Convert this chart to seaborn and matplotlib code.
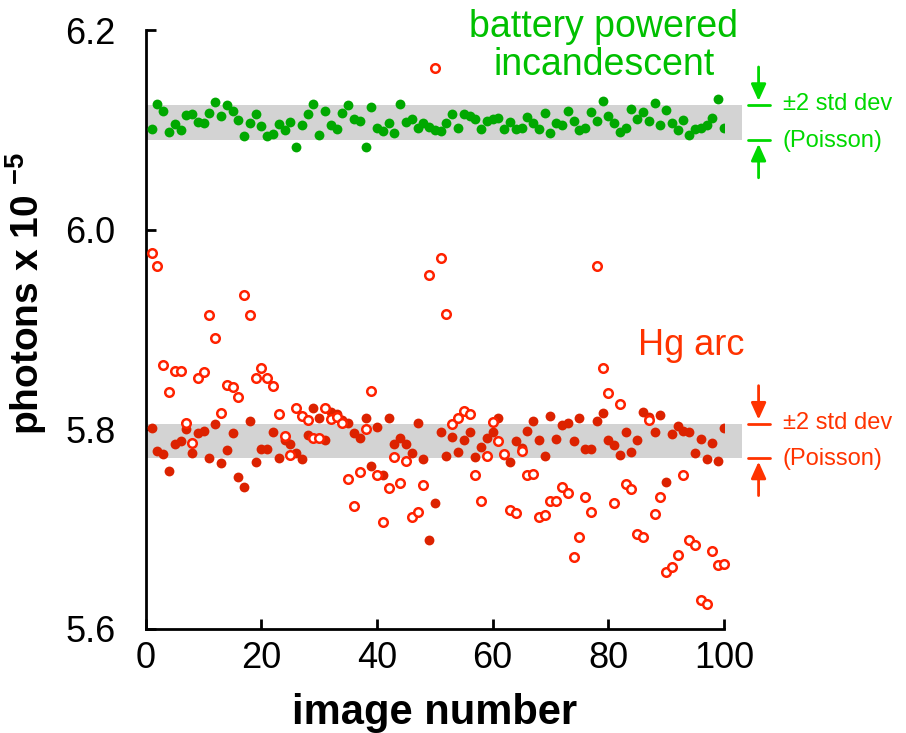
import matplotlib
matplotlib.use("Agg")
import matplotlib.pyplot as plt
import seaborn as sns
import pandas as pd

# image index 1..100
IMAGES = list(range(1, 101))

INCANDESCENT = [
    6.1007, 6.1255, 6.1188, 6.0974, 6.1055, 6.0994, 6.1148, 6.1155, 6.1075, 6.1065,
    6.1171, 6.1281, 6.1141, 6.1251, 6.1188, 6.1098, 6.0940, 6.1071, 6.1158, 6.1035,
    6.0934, 6.0960, 6.1060, 6.0994, 6.1075, 6.0824, 6.1048, 6.1155, 6.1261, 6.0950,
    6.1185, 6.1044, 6.1007, 6.1165, 6.1248, 6.1104, 6.1090, 6.0824, 6.1231, 6.1021,
    6.0987, 6.1065, 6.0967, 6.1261, 6.1075, 6.1104, 6.1014, 6.1065, 6.1031, 6.0998,
    6.0987, 6.1065, 6.1155, 6.1014, 6.1158, 6.1138, 6.1104, 6.1004, 6.1090, 6.1104,
    6.1118, 6.1007, 6.1081, 6.1007, 6.1021, 6.1124, 6.1065, 6.1007, 6.1165, 6.0967,
    6.1065, 6.1048, 6.1191, 6.1090, 6.1000, 6.1014, 6.1181, 6.1084, 6.1288, 6.1138,
    6.1071, 6.0977, 6.1021, 6.1211, 6.1111, 6.1178, 6.1084, 6.1268, 6.1044, 6.1195,
    6.1071, 6.0994, 6.1101, 6.0944, 6.1007, 6.1014, 6.1044, 6.1121, 6.1305, 6.1021,
]

HG_CORRECTED = [
    5.801, 5.778, 5.775, 5.758, 5.785, 5.788, 5.800, 5.776, 5.796, 5.798,
    5.771, 5.805, 5.766, 5.779, 5.796, 5.752, 5.742, 5.808, 5.767, 5.780,
    5.780, 5.797, 5.771, 5.789, 5.785, 5.776, 5.770, 5.794, 5.821, 5.811,
    5.789, 5.817, 5.815, 5.809, 5.806, 5.796, 5.791, 5.811, 5.763, 5.802,
    5.754, 5.811, 5.785, 5.791, 5.785, 5.776, 5.806, 5.770, 5.689, 5.726,
    5.797, 5.773, 5.792, 5.777, 5.789, 5.797, 5.772, 5.782, 5.791, 5.797,
    5.811, 5.774, 5.767, 5.788, 5.781, 5.798, 5.808, 5.789, 5.773, 5.813,
    5.790, 5.804, 5.806, 5.788, 5.811, 5.780, 5.780, 5.808, 5.816, 5.789,
    5.784, 5.774, 5.797, 5.777, 5.789, 5.817, 5.812, 5.797, 5.814, 5.747,
    5.795, 5.803, 5.798, 5.797, 5.776, 5.790, 5.770, 5.786, 5.768, 5.801,
]

HG_RAW = [
    5.977, 5.964, 5.864, 5.837, 5.858, 5.858, 5.806, 5.786, 5.851, 5.857,
    5.915, 5.891, 5.816, 5.844, 5.842, 5.832, 5.935, 5.915, 5.851, 5.861,
    5.851, 5.843, 5.815, 5.793, 5.774, 5.821, 5.813, 5.809, 5.791, 5.791,
    5.821, 5.810, 5.812, 5.806, 5.750, 5.723, 5.757, 5.800, 5.838, 5.754,
    5.707, 5.741, 5.772, 5.746, 5.768, 5.712, 5.717, 5.744, 5.955, 6.162,
    5.972, 5.916, 5.805, 5.811, 5.818, 5.815, 5.754, 5.728, 5.773, 5.807,
    5.788, 5.775, 5.719, 5.716, 5.778, 5.754, 5.755, 5.712, 5.714, 5.728,
    5.728, 5.742, 5.736, 5.672, 5.692, 5.732, 5.717, 5.964, 5.861, 5.836,
    5.726, 5.825, 5.745, 5.740, 5.695, 5.692, 5.809, 5.715, 5.732, 5.657,
    5.662, 5.674, 5.754, 5.689, 5.684, 5.629, 5.625, 5.678, 5.664, 5.665,
]

# +/- 2 std dev (Poisson) bands
GREEN_BAND = (6.090, 6.125)
RED_BAND = (5.7716, 5.8057)

X_TICKS = [0, 20, 40, 60, 80, 100]
Y_TICKS = [5.6, 5.8, 6.0, 6.2]
Y_TICK_LABELS = ["5.6", "5.8", "6.0", "6.2"]

GREEN_DOT = "#00a800"
GREEN_TEXT = "#00c000"
GREEN_ARROW = "#00d800"
RED_DOT = "#dc2200"
RED_OPEN = "#ff2200"
RED_TEXT = "#ff3300"

sns.set_style("ticks")
plt.rcParams["font.family"] = ["Liberation Sans", "DejaVu Sans"]
plt.rcParams["text.color"] = "black"
plt.rcParams["axes.labelcolor"] = "black"
plt.rcParams["xtick.color"] = "black"
plt.rcParams["ytick.color"] = "black"
plt.rcParams["axes.edgecolor"] = "black"

df = pd.DataFrame({
    "image": IMAGES,
    "incandescent": INCANDESCENT,
    "hg_corrected": HG_CORRECTED,
    "hg_raw": HG_RAW,
})

fig = plt.figure(figsize=(9.06, 7.33), dpi=100)
ax = fig.add_axes([0.161, 0.142, 0.638, 0.817])

band_end = 103.1
for lo, hi in [GREEN_BAND, RED_BAND]:
    ax.fill_between([0, band_end], [lo, lo], [hi, hi], color="#d3d3d3",
                    linewidth=0, zorder=0, clip_on=False)

sns.scatterplot(data=df, x="image", y="incandescent", ax=ax, color=GREEN_DOT,
                s=50, linewidth=0, zorder=3)
sns.scatterplot(data=df, x="image", y="hg_corrected", ax=ax, color=RED_DOT,
                s=50, linewidth=0, zorder=3)
sns.scatterplot(data=df, x="image", y="hg_raw", ax=ax, facecolor="white",
                edgecolor=RED_OPEN, s=38, linewidth=1.8, zorder=4, clip_on=False)

ax.set_xlim(0, 100)
ax.set_ylim(5.6, 6.2)
ax.set_xticks(X_TICKS)
ax.set_yticks(Y_TICKS, Y_TICK_LABELS)
ax.tick_params(direction="in", length=7, width=2, labelsize=26)
ax.tick_params(axis="x", pad=9)
ax.tick_params(axis="y", pad=22)
for side in ["left", "bottom"]:
    ax.spines[side].set_linewidth(2)
sns.despine(ax=ax)

ax.set_xlabel("image number", fontsize=30, fontweight="bold", labelpad=12)
ax.set_ylabel("photons x 10 $^{\\mathregular{-5}}$", fontsize=28,
              fontweight="bold")
ax.yaxis.set_label_coords(-0.168, 0.56)

# labels
ax.text(79.2, 6.184, "battery powered\nincandescent", color=GREEN_TEXT,
        fontsize=27, ha="center", va="center", linespacing=1.1)
ax.text(94.4, 5.884, "Hg arc", color=RED_TEXT, fontsize=26,
        ha="center", va="center")


def std_marker(lo, hi, color):
    arrow_x = 106.0
    for y in (lo, hi):
        ax.plot([104.1, 107.9], [y, y], color=color, linewidth=2,
                clip_on=False)
    props = dict(arrowstyle="-|>,head_length=1.0,head_width=0.45",
                 color=color, linewidth=2, shrinkA=0, shrinkB=0)
    ax.annotate("", xy=(arrow_x, hi + 0.004), xytext=(arrow_x, hi + 0.038),
                arrowprops=props, annotation_clip=False)
    ax.annotate("", xy=(arrow_x, lo - 0.004), xytext=(arrow_x, lo - 0.038),
                arrowprops=props, annotation_clip=False)
    ax.text(110.2, hi + 0.001, "±2 std dev", color=color, fontsize=17,
            ha="left", va="center")
    ax.text(110.2, lo - 0.001, "(Poisson)", color=color, fontsize=17,
            ha="left", va="center")


std_marker(GREEN_BAND[0], GREEN_BAND[1], GREEN_ARROW)
std_marker(RED_BAND[0], RED_BAND[1], RED_TEXT)

fig.savefig("out.png", dpi=100)
